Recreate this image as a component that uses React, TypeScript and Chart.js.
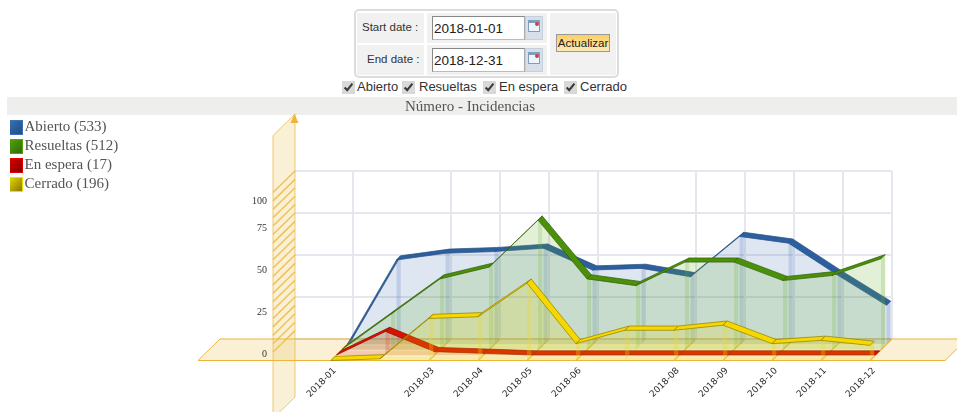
import React, { useEffect, useRef } from "react";
import { Chart, registerables } from "chart.js";

const MONTHS = ["2018-01","2018-02","2018-03","2018-04","2018-05","2018-06","2018-07","2018-08","2018-09","2018-10","2018-11","2018-12"];
const SHOWN_MONTHS = [0, 2, 3, 4, 5, 7, 8, 9, 10, 11];
const Y_TICKS = [0, 25, 50, 75, 100];
const HATCH_VALUES = [5,10,15,20,25,30,35,40,45,50,55,60,65,70,75,80,85,90,95,100];
const abierto = [0, 50, 54, 55, 57, 44, 45, 40, 64, 60, 41, 23];
const resueltas = [0, 21, 42, 49, 77, 42, 38, 52, 52, 41, 44, 54];
const enEspera = [0, 14, 2, 1, 0, 0, 0, 0, 0, 0, 0, 0];
const cerrado = [0, 1, 25, 26, 46, 10, 18, 18, 21, 10, 12, 9];

const SERIF = "'Liberation Serif', serif";
const SANS = "'Liberation Sans', sans-serif";
const DX = 22, DY = -21.5;           // total depth of the floor
const RIB = 4.2;                     // depth of one ribbon
const LAYER_STEP = 5.5;

type Style = { name: string; data: number[]; layer: number; ribbon: string; edge: string; area: string; strut: string; g0: string; g1: string };
const SERIES: Style[] = [
  { name: "Abierto", data: abierto, layer: 3, ribbon: "#2c5f9f", edge: "#2a4f80", area: "rgba(60,105,175,0.17)", strut: "rgba(60,105,175,0.2)", g0: "#3a72b8", g1: "#1f4a80" },
  { name: "Resueltas", data: resueltas, layer: 2, ribbon: "#4a9008", edge: "#335f08", area: "rgba(100,175,40,0.19)", strut: "rgba(100,175,40,0.2)", g0: "#55a80c", g1: "#2c6604" },
  { name: "En espera", data: enEspera, layer: 1, ribbon: "#d81200", edge: "#8c0a00", area: "rgba(225,50,30,0.2)", strut: "rgba(225,50,30,0.22)", g0: "#e00000", g1: "#800000" },
  { name: "Cerrado", data: cerrado, layer: 0, ribbon: "#f6d800", edge: "#8f7d00", area: "rgba(235,215,0,0.19)", strut: "rgba(240,215,40,0.28)", g0: "#f0e000", g1: "#807000" },
];

function legendIcon(s: Style): HTMLCanvasElement {
  const c = document.createElement("canvas");
  c.width = 15;
  c.height = 15;
  const g2 = c.getContext("2d") as CanvasRenderingContext2D;
  const g = g2.createLinearGradient(0, 0, 15, 15);
  g.addColorStop(0, s.g0);
  g.addColorStop(1, s.g1);
  g2.fillStyle = g;
  g2.fillRect(0, 0, 15, 15);
  g2.strokeStyle = s.g0;
  g2.strokeRect(0.5, 0.5, 14, 14);
  return c;
}

const scenePlugin = {
  id: "scene",
  beforeDraw(chart: any) {
    const { ctx } = chart;
    const x = chart.scales.x, y = chart.scales.y;
    ctx.save();
    // nudge labels to where the reference has them
    for (const it of y.getLabelItems(chart.chartArea)) {
      if (it.label === "100" && !it.moved) { it.options.translation[1] += 15; it.moved = true; }
    }
    for (const it of x.getLabelItems(chart.chartArea)) {
      if (!it.moved) { it.options.translation[0] += 4; it.options.translation[1] -= 3; it.moved = true; }
    }
    const x0 = x.getPixelForValue(0), x11 = x.getPixelForValue(11);
    const y0 = y.getPixelForValue(0), y100 = y.getPixelForValue(100);

    // back wall grid
    ctx.strokeStyle = "#e6e6ef";
    ctx.lineWidth = 2;
    ctx.beginPath();
    for (const v of Y_TICKS) {
      const py = y.getPixelForValue(v) + DY;
      ctx.moveTo(x0 - 36, py);
      ctx.lineTo(x11 + DX, py);
    }
    for (const t of x.ticks) {
      const px = x.getPixelForValue(t.value) + DX;
      ctx.moveTo(px, y0 + DY);
      ctx.lineTo(px, y100 + DY);
    }
    ctx.stroke();

    // vertical wall
    const wl = x0 - 58, wr = wl + DX;
    ctx.fillStyle = "rgba(235,205,120,0.3)";
    ctx.strokeStyle = "rgba(236,185,70,0.75)";
    ctx.lineWidth = 1;
    ctx.beginPath();
    ctx.moveTo(wl, y0 + 58);
    ctx.lineTo(wl, y100 - 57);
    ctx.lineTo(wr, y100 - 57 + DY);
    ctx.lineTo(wr, y0 + 36.5);
    ctx.closePath();
    ctx.fill();
    ctx.stroke();
    // hatch on the wall
    ctx.strokeStyle = "rgba(238,188,75,0.9)";
    ctx.lineWidth = 1.5;
    ctx.beginPath();
    for (const v of HATCH_VALUES) {
      const py = y.getPixelForValue(v);
      ctx.moveTo(wl, py);
      ctx.lineTo(wr, py + DY);
    }
    ctx.stroke();
    // arrow
    ctx.fillStyle = "#eeb53c";
    ctx.beginPath();
    ctx.moveTo(wr - 0.5, y100 - 78.5);
    ctx.lineTo(wr - 4.5, y100 - 69.5);
    ctx.lineTo(wr + 3.5, y100 - 69.5);
    ctx.closePath();
    ctx.fill();

    // floor
    ctx.lineWidth = 1;
    ctx.fillStyle = "rgba(235,205,120,0.3)";
    ctx.strokeStyle = "rgba(236,178,50,0.95)";
    ctx.beginPath();
    ctx.moveTo(x0 - 133, y0);
    ctx.lineTo(x11 + 75, y0);
    ctx.lineTo(x11 + 75 + DX, y0 + DY);
    ctx.lineTo(x0 - 133 + DX, y0 + DY);
    ctx.closePath();
    ctx.fill();
    ctx.stroke();
    // floor ticks
    ctx.strokeStyle = "rgba(236,180,60,0.85)";
    ctx.lineWidth = 1.2;
    ctx.beginPath();
    for (const t of x.ticks) {
      const px = x.getPixelForValue(t.value);
      ctx.moveTo(px, y0);
      ctx.lineTo(px + DX, y0 + DY);
    }
    ctx.stroke();
    ctx.restore();
  },
  beforeDatasetDraw(chart: any, args: any) {
    const s = SERIES[args.index];
    const d = s.layer * LAYER_STEP;
    const { ctx } = chart;
    const y0 = chart.scales.y.getPixelForValue(0);
    const pts = args.meta.data;
    // base strip on the floor
    const a = pts[0].x, b = pts[pts.length - 1].x;
    ctx.save();
    ctx.fillStyle = s.area;
    ctx.beginPath();
    ctx.moveTo(a + d, y0 - d);
    ctx.lineTo(b + d, y0 - d);
    ctx.lineTo(b + d + RIB, y0 - d - RIB);
    ctx.lineTo(a + d + RIB, y0 - d - RIB);
    ctx.closePath();
    ctx.fill();
    ctx.restore();
    // the area sits on the back edge of the ribbon
    ctx.save();
    ctx.translate(d + RIB, -d - RIB);
  },
  afterDatasetDraw(chart: any, args: any) {
    const { ctx } = chart;
    ctx.restore();
    const s = SERIES[args.index];
    const d = s.layer * LAYER_STEP;
    const y0 = chart.scales.y.getPixelForValue(0);
    const pts = args.meta.data;
    ctx.save();
    ctx.translate(d, -d);
    // struts
    ctx.fillStyle = s.strut;
    pts.forEach((p: any, i: number) => {
      if (i === 0) return;
      ctx.beginPath();
      ctx.moveTo(p.x, y0);
      ctx.lineTo(p.x, p.y);
      ctx.lineTo(p.x + RIB, p.y - RIB);
      ctx.lineTo(p.x + RIB, y0 - RIB);
      ctx.closePath();
      ctx.fill();
    });
    // ribbon
    ctx.fillStyle = s.ribbon;
    ctx.strokeStyle = s.edge;
    ctx.lineWidth = 0.7;
    ctx.lineJoin = "round";
    for (let i = 0; i < pts.length - 1; i++) {
      const p = pts[i], q = pts[i + 1];
      ctx.beginPath();
      ctx.moveTo(p.x, p.y);
      ctx.lineTo(q.x, q.y);
      ctx.lineTo(q.x + RIB, q.y - RIB);
      ctx.lineTo(p.x + RIB, p.y - RIB);
      ctx.closePath();
      ctx.fill();
      ctx.stroke();
    }
    ctx.restore();
  },
};

// registered first, so its translate runs before the Filler paints each area
Chart.register(scenePlugin as any, ...registerables);

function App() {
  const ref = useRef<HTMLCanvasElement | null>(null);
  useEffect(() => {
    const chart = new Chart(ref.current as HTMLCanvasElement, {
      type: "line",
      data: {
        datasets: SERIES.map((s, i) => ({
          label: s.name,
          data: s.data.map((v, k) => ({ x: k, y: v })),
          order: 3 - i,
          fill: "origin",
          backgroundColor: s.area,
          borderWidth: 0,
          pointRadius: 0,
          tension: 0,
          clip: false,
        })),
      },
      options: {
        animation: false,
        responsive: false,
        maintainAspectRatio: false,
        events: [],
        layout: { padding: { top: 0, left: 0, right: 27, bottom: 0 } },
        plugins: {
          tooltip: { enabled: false },
          title: {
            display: true,
            text: "Número - Incidencias",
            color: "#555",
            font: { family: SERIF, size: 15, weight: "normal" },
            padding: { top: 1, bottom: 0 },
          },
          legend: {
            display: true,
            position: "left",
            align: "start",
            fullSize: false,
            labels: {
              usePointStyle: true,
              pointStyleWidth: 3,
              boxHeight: 15,
              padding: 4,
              color: "#555",
              font: { family: SERIF, size: 15 },
              generateLabels() {
                return SERIES.map((s, i) => ({
                  text: `${s.name} (${s.data.reduce((a, b) => a + b, 0)})`,
                  pointStyle: legendIcon(s),
                  fontColor: "#555",
                  datasetIndex: i,
                  hidden: false,
                }));
              },
            },
          },
        },
        scales: {
          x: {
            type: "linear",
            min: 0,
            max: 12.224,
            bounds: "data",
            grid: { display: false },
            border: { display: false },
            afterBuildTicks(scale: any) {
              scale.ticks = SHOWN_MONTHS.map((value) => ({ value }));
            },
            afterFit(scale: any) {
              scale.height = 51.5;
            },
            ticks: {
              autoSkip: false,
              minRotation: 45,
              maxRotation: 45,
              padding: 0,
              color: "#2a2a2a",
              font: { family: "'DejaVu Sans', sans-serif", size: 9 },
              callback: (v: any) => MONTHS[v],
            },
          },
          y: {
            type: "linear",
            min: 0,
            max: 145.5,
            bounds: "data",
            grid: { display: false },
            border: { display: false },
            afterBuildTicks(scale: any) {
              scale.ticks = Y_TICKS.map((value) => ({ value }));
            },
            afterFit(scale: any) {
              const lw = scale.chart.legend ? scale.chart.legend.width : 120;
              scale.width = 321 - lw;
              scale.paddingTop = 0;
              scale.paddingBottom = 0;
            },
            ticks: {
              autoSkip: false,
              padding: 56,
              labelOffset: -6,
              color: "#333",
              font: { family: SERIF, size: 10 },
            },
          },
        },
      },
    } as any);
    return () => chart.destroy();
  }, []);

  const cell: React.CSSProperties = { position: "absolute", background: "#f1f1f1" };
  const lbl: React.CSSProperties = { position: "absolute", font: `11.5px ${SANS}`, color: "#333", whiteSpace: "nowrap" };
  const inp: React.CSSProperties = {
    position: "absolute", left: 432, width: 93, height: 24, boxSizing: "border-box",
    border: "1px solid #888", borderRightColor: "#aaa", borderBottomColor: "#bbb", font: `13.5px ${SANS}`, color: "#222",
    lineHeight: "23px", paddingLeft: 1, background: "#fff",
  };
  const cal = (top: number) => (
    <div style={{ position: "absolute", left: 525, top, width: 18, height: 24, background: "#d9dfe8", border: "1px solid #c6cfdc", boxSizing: "border-box" }}>
      <div style={{ position: "absolute", left: 2, top: 3, width: 12, height: 12, background: "#eef4fb", border: "1px solid #7f9fc2", borderTopWidth: 3, boxSizing: "border-box" }} />
      <div style={{ position: "absolute", left: 9, top: 5, width: 4, height: 4, borderRadius: 2, background: "#c8444a" }} />
    </div>
  );
  const check = (left: number) => (
    <input type="checkbox" checked readOnly style={{ position: "absolute", left, top: 81, margin: 0, width: 13, height: 13, accentColor: "#d9d9d9" }} />
  );
  return (
    <div style={{ position: "absolute", left: 0, top: 0, width: 957, height: 412, overflow: "hidden", background: "#fff" }}>
      <div style={{ position: "absolute", left: 7, top: 97, width: 950, height: 18, background: "#eeeeec" }} />
      <canvas ref={ref} width={947} height={315} style={{ position: "absolute", left: 10, top: 97, display: "block" }} />
      <div style={{ position: "absolute", left: 354, top: 9, width: 265, height: 69, boxSizing: "border-box", border: "2px solid #dcdcdc", borderRadius: 5, background: "#fff" }} />
      <div style={{ ...cell, left: 357, top: 13, width: 67, height: 30 }} />
      <div style={{ ...cell, left: 357, top: 45, width: 67, height: 30 }} />
      <div style={{ ...cell, left: 427, top: 13, width: 120, height: 30 }} />
      <div style={{ ...cell, left: 427, top: 45, width: 120, height: 30 }} />
      <div style={{ ...cell, left: 550, top: 13, width: 66, height: 62 }} />
      <div style={{ ...lbl, left: 362, top: 21 }}>Start date :</div>
      <div style={{ ...lbl, left: 367, top: 53 }}>End date :</div>
      <div style={{ ...inp, top: 16 }}>2018-01-01</div>
      <div style={{ ...inp, top: 48 }}>2018-12-31</div>
      {cal(16)}
      {cal(48)}
      <div style={{ position: "absolute", left: 556, top: 34, width: 54, height: 18, boxSizing: "border-box", border: "1px solid #999", background: "linear-gradient(#fbcf62,#fdeab8)", font: `11.5px ${SANS}`, color: "#222", textAlign: "center", lineHeight: "17px", whiteSpace: "nowrap" }}>Actualizar</div>
      {check(342)}
      <div style={{ ...lbl, left: 357, top: 79, fontSize: 13 }}>Abierto</div>
      {check(402)}
      <div style={{ ...lbl, left: 419, top: 79, fontSize: 13 }}>Resueltas</div>
      {check(483)}
      <div style={{ ...lbl, left: 499, top: 79, fontSize: 13 }}>En espera</div>
      {check(564)}
      <div style={{ ...lbl, left: 580, top: 79, fontSize: 13 }}>Cerrado</div>
    </div>
  );
}

export default App;
